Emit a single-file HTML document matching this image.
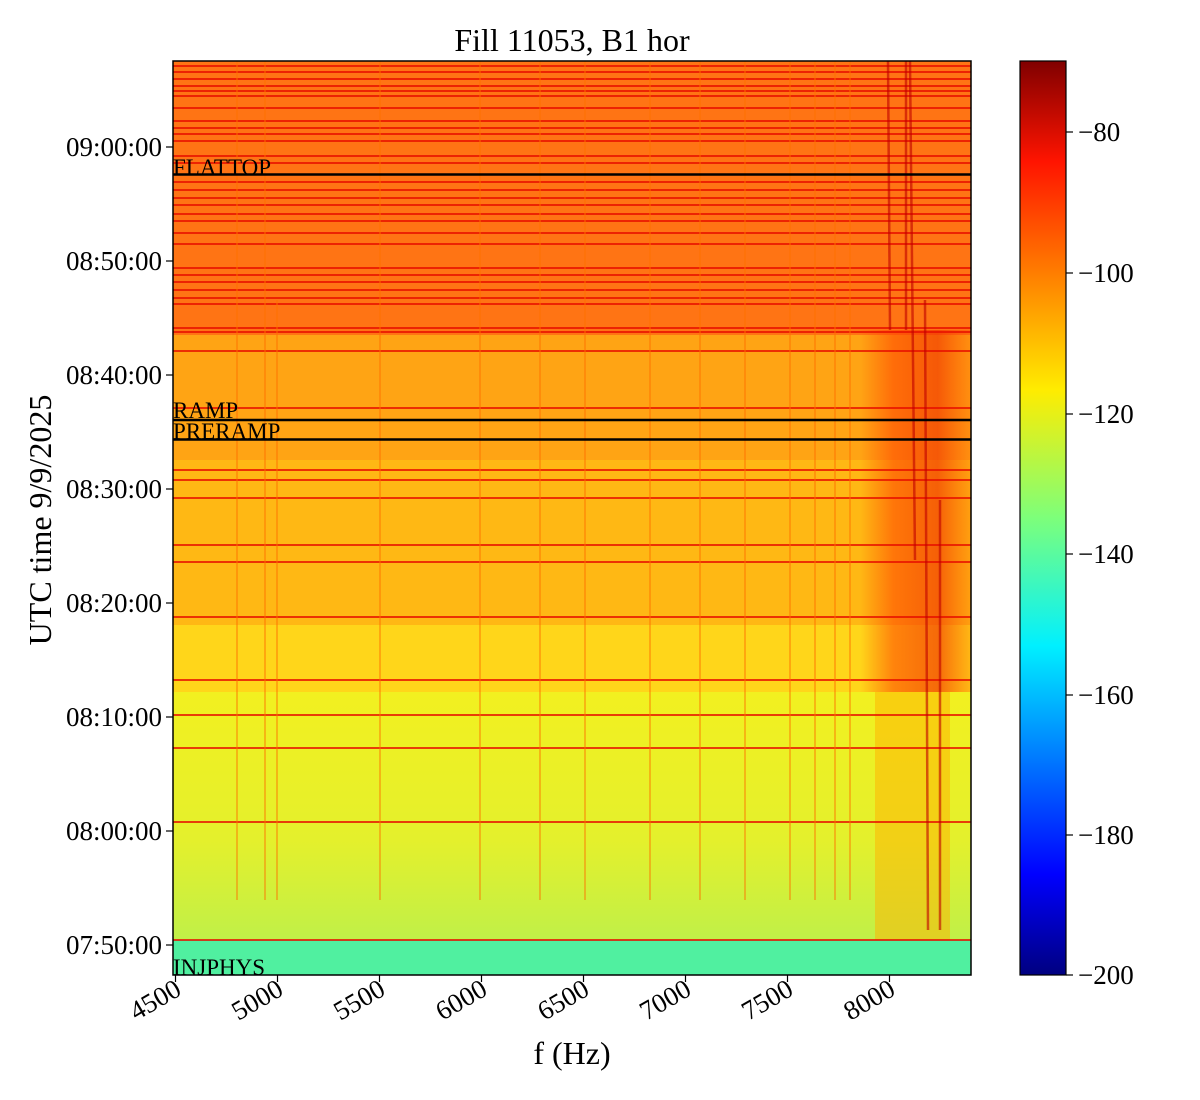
<!DOCTYPE html>
<html><head><meta charset="utf-8"><style>body{margin:0;background:#fff}svg{display:block}text{font-family:"Liberation Serif",serif;fill:#000}</style></head><body>
<svg width="1200" height="1100" viewBox="0 0 1200 1100" xmlns="http://www.w3.org/2000/svg">
<defs>
<linearGradient id="jet" x1="0" y1="1" x2="0" y2="0">
<stop offset="0" stop-color="#000080"/><stop offset="0.11" stop-color="#0000ff"/><stop offset="0.36" stop-color="#00f0ff"/><stop offset="0.5" stop-color="#7dff7a"/><stop offset="0.64" stop-color="#ffec00"/><stop offset="0.89" stop-color="#ff1400"/><stop offset="1" stop-color="#800000"/>
</linearGradient>
<linearGradient id="low" x1="0" y1="0" x2="0" y2="1"><stop offset="0" stop-color="#f2f020"/><stop offset="0.6" stop-color="#e4f02c"/><stop offset="1" stop-color="#c0f048"/></linearGradient>
<linearGradient id="rt" x1="0" y1="0" x2="1" y2="0"><stop offset="0" stop-color="#ff4000" stop-opacity="0"/><stop offset="0.3" stop-color="#ff4000" stop-opacity="0.55"/><stop offset="0.7" stop-color="#f03000" stop-opacity="0.65"/><stop offset="1" stop-color="#ff4000" stop-opacity="0.2"/></linearGradient>
</defs>
<rect x="173" y="61" width="798" height="274" fill="#ff7414"/>
<rect x="173" y="335" width="798" height="125" fill="#ffa414"/>
<rect x="173" y="460" width="798" height="165" fill="#ffb814"/>
<rect x="173" y="625" width="798" height="67" fill="#ffd61a"/>
<rect x="173" y="692" width="798" height="248" fill="url(#low)"/>
<rect x="173" y="940" width="798" height="35" fill="#50f0a0"/>
<rect x="860" y="330" width="111" height="362" fill="url(#rt)"/>
<rect x="875" y="692" width="75" height="248" fill="#ffb000" opacity="0.5"/>
<g stroke="#e81000" stroke-width="2" opacity="0.8">
<line x1="173" x2="971" y1="66" y2="66"/><line x1="173" x2="971" y1="72" y2="72"/><line x1="173" x2="971" y1="79" y2="79"/><line x1="173" x2="971" y1="86" y2="86"/><line x1="173" x2="971" y1="91" y2="91"/><line x1="173" x2="971" y1="96" y2="96"/><line x1="173" x2="971" y1="108" y2="108"/><line x1="173" x2="971" y1="121" y2="121"/><line x1="173" x2="971" y1="128" y2="128"/><line x1="173" x2="971" y1="134" y2="134"/><line x1="173" x2="971" y1="141" y2="141"/><line x1="173" x2="971" y1="156" y2="156"/><line x1="173" x2="971" y1="163" y2="163"/><line x1="173" x2="971" y1="182" y2="182"/><line x1="173" x2="971" y1="190" y2="190"/><line x1="173" x2="971" y1="198" y2="198"/><line x1="173" x2="971" y1="205" y2="205"/><line x1="173" x2="971" y1="214" y2="214"/><line x1="173" x2="971" y1="221" y2="221"/><line x1="173" x2="971" y1="233" y2="233"/><line x1="173" x2="971" y1="244" y2="244"/><line x1="173" x2="971" y1="268" y2="268"/><line x1="173" x2="971" y1="275" y2="275"/><line x1="173" x2="971" y1="282" y2="282"/><line x1="173" x2="971" y1="290" y2="290"/><line x1="173" x2="971" y1="298" y2="298"/><line x1="173" x2="971" y1="304" y2="304"/><line x1="173" x2="971" y1="328" y2="328"/><line x1="173" x2="971" y1="332" y2="332"/><line x1="173" x2="971" y1="351" y2="351"/><line x1="173" x2="971" y1="408" y2="408"/><line x1="173" x2="971" y1="470" y2="470"/><line x1="173" x2="971" y1="480" y2="480"/><line x1="173" x2="971" y1="498" y2="498"/><line x1="173" x2="971" y1="545" y2="545"/><line x1="173" x2="971" y1="562" y2="562"/><line x1="173" x2="971" y1="617" y2="617"/><line x1="173" x2="971" y1="680" y2="680"/><line x1="173" x2="971" y1="715" y2="715"/><line x1="173" x2="971" y1="748" y2="748"/><line x1="173" x2="971" y1="822" y2="822"/><line x1="173" x2="971" y1="940" y2="940"/>
</g>
<g stroke="#ff7000" stroke-width="2" opacity="0.45">
<line x1="237" x2="237" y1="61" y2="900"/><line x1="265" x2="265" y1="61" y2="900"/><line x1="277" x2="277" y1="300" y2="900"/><line x1="380" x2="380" y1="61" y2="900"/><line x1="480" x2="480" y1="61" y2="900"/><line x1="540" x2="540" y1="61" y2="900"/><line x1="585" x2="585" y1="61" y2="900"/><line x1="650" x2="650" y1="61" y2="900"/><line x1="700" x2="700" y1="61" y2="900"/><line x1="745" x2="745" y1="61" y2="900"/><line x1="790" x2="790" y1="61" y2="900"/><line x1="815" x2="815" y1="61" y2="900"/><line x1="835" x2="835" y1="61" y2="900"/><line x1="850" x2="850" y1="61" y2="900"/>
</g>
<g stroke="#c00000" stroke-width="2.5" opacity="0.6">
<line x1="888" x2="890" y1="61" y2="330"/><line x1="910" x2="915" y1="61" y2="560"/><line x1="925" x2="928" y1="300" y2="930"/><line x1="940" x2="940" y1="500" y2="930"/><line x1="906" x2="906" y1="61" y2="330"/>
</g>
<g stroke="#000" stroke-width="2.5">
<line x1="173" x2="971" y1="174.5" y2="174.5"/><line x1="173" x2="971" y1="420" y2="420"/><line x1="173" x2="971" y1="439.5" y2="439.5"/>
</g>
<g font-size="23">
<text x="173" y="175">FLATTOP</text><text x="173" y="418">RAMP</text><text x="173" y="439">PRERAMP</text><text x="173" y="975">INJPHYS</text>
</g>
<rect x="173" y="61" width="798" height="914" fill="none" stroke="#000" stroke-width="1.5"/>
<g stroke="#000" stroke-width="1.2">
<line x1="166" x2="173" y1="147" y2="147"/><line x1="166" x2="173" y1="261" y2="261"/><line x1="166" x2="173" y1="375" y2="375"/><line x1="166" x2="173" y1="489" y2="489"/><line x1="166" x2="173" y1="603" y2="603"/><line x1="166" x2="173" y1="717" y2="717"/><line x1="166" x2="173" y1="831" y2="831"/><line x1="166" x2="173" y1="945" y2="945"/>
<line x1="175.5" x2="175.5" y1="975" y2="982"/><line x1="277.5" x2="277.5" y1="975" y2="982"/><line x1="379.5" x2="379.5" y1="975" y2="982"/><line x1="481.5" x2="481.5" y1="975" y2="982"/><line x1="583.5" x2="583.5" y1="975" y2="982"/><line x1="685.5" x2="685.5" y1="975" y2="982"/><line x1="787.5" x2="787.5" y1="975" y2="982"/><line x1="889.5" x2="889.5" y1="975" y2="982"/>
</g>
<g font-size="27" text-anchor="end">
<text x="162" y="156">09:00:00</text><text x="162" y="270">08:50:00</text><text x="162" y="384">08:40:00</text><text x="162" y="498">08:30:00</text><text x="162" y="612">08:20:00</text><text x="162" y="726">08:10:00</text><text x="162" y="840">08:00:00</text><text x="162" y="954">07:50:00</text>
</g>
<g font-size="27" text-anchor="end">
<text transform="translate(183,994) rotate(-30)">4500</text><text transform="translate(285,994) rotate(-30)">5000</text><text transform="translate(387,994) rotate(-30)">5500</text><text transform="translate(489,994) rotate(-30)">6000</text><text transform="translate(591,994) rotate(-30)">6500</text><text transform="translate(693,994) rotate(-30)">7000</text><text transform="translate(795,994) rotate(-30)">7500</text><text transform="translate(897,994) rotate(-30)">8000</text>
</g>
<text x="572" y="51" font-size="32" text-anchor="middle">Fill 11053, B1 hor</text>
<text x="572" y="1064" font-size="32" text-anchor="middle">f (Hz)</text>
<text transform="translate(51,520) rotate(-90)" font-size="32" text-anchor="middle">UTC time 9/9/2025</text>
<rect x="1020" y="61" width="46" height="914" fill="url(#jet)" stroke="#000" stroke-width="1.2"/>
<g stroke="#000" stroke-width="1.2">
<line x1="1066" x2="1073" y1="132" y2="132"/><line x1="1066" x2="1073" y1="273" y2="273"/><line x1="1066" x2="1073" y1="414" y2="414"/><line x1="1066" x2="1073" y1="554" y2="554"/><line x1="1066" x2="1073" y1="695" y2="695"/><line x1="1066" x2="1073" y1="835" y2="835"/><line x1="1066" x2="1073" y1="975" y2="975"/>
</g>
<g font-size="27">
<text x="1078" y="141">−80</text><text x="1078" y="282">−100</text><text x="1078" y="423">−120</text><text x="1078" y="563">−140</text><text x="1078" y="704">−160</text><text x="1078" y="844">−180</text><text x="1078" y="984">−200</text>
</g>
</svg>
</body></html>
